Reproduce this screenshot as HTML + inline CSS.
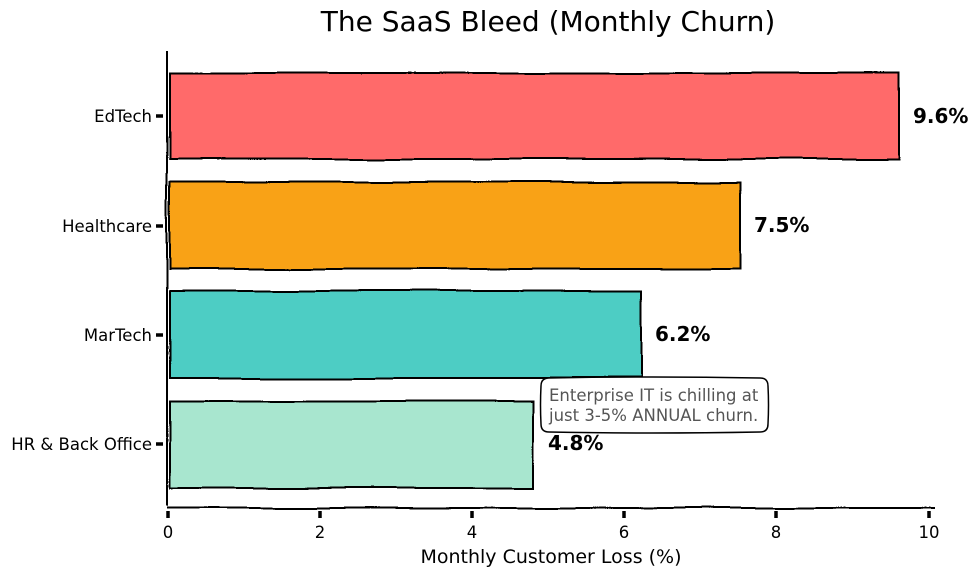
<!DOCTYPE html>
<html><head><meta charset="utf-8"><style>
body{margin:0;background:#fff;}
svg{display:block;font-family:"DejaVu Sans","Liberation Sans",sans-serif;}
</style></head><body>
<svg width="978" height="577" viewBox="0 0 978 577">
<defs>
<filter id="w" x="-5%" y="-10%" width="110%" height="120%">
<feTurbulence type="fractalNoise" baseFrequency="0.012" numOctaves="1" seed="3" result="n"/>
<feDisplacementMap in="SourceGraphic" in2="n" scale="6" xChannelSelector="R" yChannelSelector="G"/>
</filter>
</defs>
<text x="548" y="31" font-size="28" text-anchor="middle" fill="#000">The SaaS Bleed (Monthly Churn)</text>
<g stroke="#000" stroke-width="2" filter="url(#w)">
<rect x="170" y="73" width="729" height="86" fill="#ff6b6b"/>
<rect x="170" y="182" width="570" height="87" fill="#f9a214"/>
<rect x="170" y="291" width="471" height="87" fill="#4ecdc4"/>
<rect x="170" y="401" width="364" height="87" fill="#a8e6cf"/>
<line x1="167" y1="50" x2="167" y2="506" fill="none"/>
<line x1="167" y1="508" x2="935" y2="508" fill="none"/>
</g>
<g stroke="#000" stroke-width="3.5">
<line x1="156" y1="116" x2="163" y2="116"/><line x1="156" y1="226" x2="163" y2="226"/><line x1="156" y1="335" x2="163" y2="335"/><line x1="156" y1="444" x2="163" y2="444"/>
<line x1="168" y1="511" x2="168" y2="518"/><line x1="320" y1="511" x2="320" y2="518"/><line x1="472" y1="511" x2="472" y2="518"/><line x1="624" y1="511" x2="624" y2="518"/><line x1="776" y1="511" x2="776" y2="518"/><line x1="929" y1="511" x2="929" y2="518"/>
</g>
<g font-size="16.5" text-anchor="end" fill="#000">
<text x="152" y="122">EdTech</text><text x="152" y="232">Healthcare</text><text x="152" y="341">MarTech</text><text x="152" y="450">HR &amp; Back Office</text>
</g>
<g font-size="16.5" text-anchor="middle" fill="#000">
<text x="168" y="538">0</text><text x="320" y="538">2</text><text x="472" y="538">4</text><text x="624" y="538">6</text><text x="776" y="538">8</text><text x="929" y="538">10</text>
</g>
<text x="551" y="563" font-size="19" text-anchor="middle">Monthly Customer Loss (%)</text>
<g font-size="20" font-weight="bold" fill="#000">
<text x="913" y="123">9.6%</text><text x="754" y="232">7.5%</text><text x="655" y="341">6.2%</text><text x="548" y="450">4.8%</text>
</g>
<path d="M549,378 Q650,376 760,378 Q768,378 768,386 Q769,405 768,424 Q768,432 760,432 Q650,434 549,432 Q541,432 541,424 Q540,405 541,386 Q541,378 549,378Z" fill="#fff" stroke="#000" stroke-width="1.5"/>
<g font-size="16.5" fill="#555">
<text x="549" y="401">Enterprise IT is chilling at</text><text x="549" y="421">just 3-5% ANNUAL churn.</text>
</g>
</svg>
</body></html>
